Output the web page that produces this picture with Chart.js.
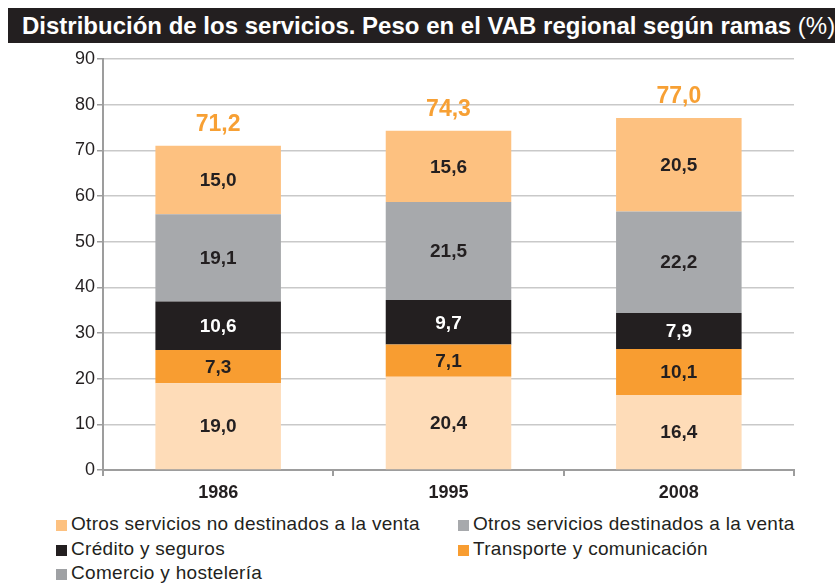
<!DOCTYPE html>
<html>
<head>
<meta charset="utf-8">
<script src="https://cdn.jsdelivr.net/npm/chart.js@4.4.1/dist/chart.umd.min.js"></script>
<style>
body { margin: 0; background: #fff; font-family: "Liberation Sans", Arial, sans-serif; }
#wrap { position: relative; width: 835px; height: 583px; overflow: hidden; }
#title {
    position: absolute; left: 8px; top: 8px; width: 827px; height: 35px;
    background: #231f20; color: #fff; font-weight: bold; font-size: 24px;
    line-height: 35px; padding-left: 14px; box-sizing: border-box; white-space: nowrap;
}
#title span { font-weight: normal; }
#chartBox { position: absolute; left: 0; top: 42px; width: 835px; height: 463px; }
.leg { position: absolute; font-size: 19px; letter-spacing: 0.3px; color: #231f20; line-height: 22px; white-space: nowrap; }
.leg i { display: inline-block; width: 11px; height: 11px; margin-right: 4px; vertical-align: -1px; }
</style>
</head>
<body>
<div id="wrap">
    <div id="title">Distribución de los servicios. Peso en el VAB regional según ramas <span>(%)</span></div>
    <div id="chartBox"><canvas id="chart"></canvas></div>
    <div id="legend"></div>
</div>
<script>
const years = ['1986', '1995', '2008'];

// series from bottom of the stack to the top
const comercio    = [19.0, 20.4, 16.4];
const transporte  = [7.3, 7.1, 10.1];
const credito     = [10.6, 9.7, 7.9];
const otrosVenta  = [19.1, 21.5, 22.2];
const otrosNoVenta = [15.0, 15.6, 20.5];

const totals = [71.2, 74.3, 77.0];

const yTicks = [0, 10, 20, 30, 40, 50, 60, 70, 80, 90];

const FONT = '"Liberation Sans", Arial, sans-serif';
const DARK = '#231f20';

const datasets = [
    { label: 'Comercio y hostelería', data: comercio, backgroundColor: '#fedcb8', legendColor: '#9fa1a4', labelColor: DARK },
    { label: 'Transporte y comunicación', data: transporte, backgroundColor: '#f89d31', legendColor: '#f89d31', labelColor: DARK },
    { label: 'Crédito y seguros', data: credito, backgroundColor: '#231f20', legendColor: '#231f20', labelColor: '#fff' },
    { label: 'Otros servicios destinados a la venta', data: otrosVenta, backgroundColor: '#a7a9ac', legendColor: '#a7a9ac', labelColor: DARK },
    { label: 'Otros servicios no destinados a la venta', data: otrosNoVenta, backgroundColor: '#fdc180', legendColor: '#fdc180', labelColor: DARK },
];

const fmt = v => v.toFixed(1).replace('.', ',');

const segLabels = {
    id: 'segLabels',
    afterDatasetsDraw(chart) {
        const c = chart.ctx;
        c.save();
        c.textAlign = 'center';
        c.textBaseline = 'middle';
        c.font = 'bold 19px ' + FONT;
        chart.data.datasets.forEach((ds, i) => {
            chart.getDatasetMeta(i).data.forEach((bar, j) => {
                c.fillStyle = ds.labelColor;
                c.fillText(fmt(ds.data[j]), bar.x, (bar.y + bar.base) / 2 + 1);
            });
        });
        const topMeta = chart.getDatasetMeta(chart.data.datasets.length - 1);
        c.font = 'bold 23px ' + FONT;
        c.fillStyle = '#f7a034';
        totals.forEach((t, j) => {
            const bar = topMeta.data[j];
            c.fillText(fmt(t), bar.x, bar.y - 21);
        });
        c.restore();
    }
};

new Chart(document.getElementById('chart'), {
    type: 'bar',
    data: {
        labels: years,
        datasets: datasets.map(d => ({
            label: d.label,
            data: d.data,
            backgroundColor: d.backgroundColor,
            labelColor: d.labelColor,
            borderWidth: 0,
            barPercentage: 0.545,
            categoryPercentage: 1,
        }))
    },
    options: {
        responsive: true,
        maintainAspectRatio: false,
        animation: false,
        layout: { padding: { top: 17, right: 41, left: 0, bottom: 0 } },
        plugins: { legend: { display: false }, tooltip: { enabled: false } },
        scales: {
            x: {
                stacked: true,
                afterFit: s => { s.height = 35; },
                grid: { drawOnChartArea: false, drawTicks: true, tickLength: 6, color: '#9d9d9d', lineWidth: 2, offset: true },
                border: { color: '#9d9d9d', width: 2 },
                ticks: { color: DARK, font: { family: FONT, size: 18, weight: 'bold' }, padding: 6 }
            },
            y: {
                stacked: true,
                min: 0,
                max: 90,
                afterFit: s => { s.width = 103; },
                afterBuildTicks: s => { s.ticks = yTicks.map(v => ({ value: v })); },
                grid: { color: '#c9c9c9', lineWidth: 1.5, tickColor: '#9d9d9d', tickLength: 6 },
                border: { color: '#9d9d9d', width: 2 },
                ticks: { color: DARK, font: { family: FONT, size: 18 }, padding: 2 }
            }
        }
    },
    plugins: [segLabels]
});

// legend in two columns, top series first
const legend = document.getElementById('legend');
const order = datasets.slice().reverse();
const colX = [56, 458];
const rowY = [513, 538, 562];
order.forEach((d, i) => {
    const el = document.createElement('div');
    el.className = 'leg';
    el.style.left = colX[i % 2] + 'px';
    el.style.top = rowY[Math.floor(i / 2)] + 'px';
    el.innerHTML = '<i style="background:' + d.legendColor + '"></i>' + d.label;
    legend.appendChild(el);
});
</script>
</body>
</html>
